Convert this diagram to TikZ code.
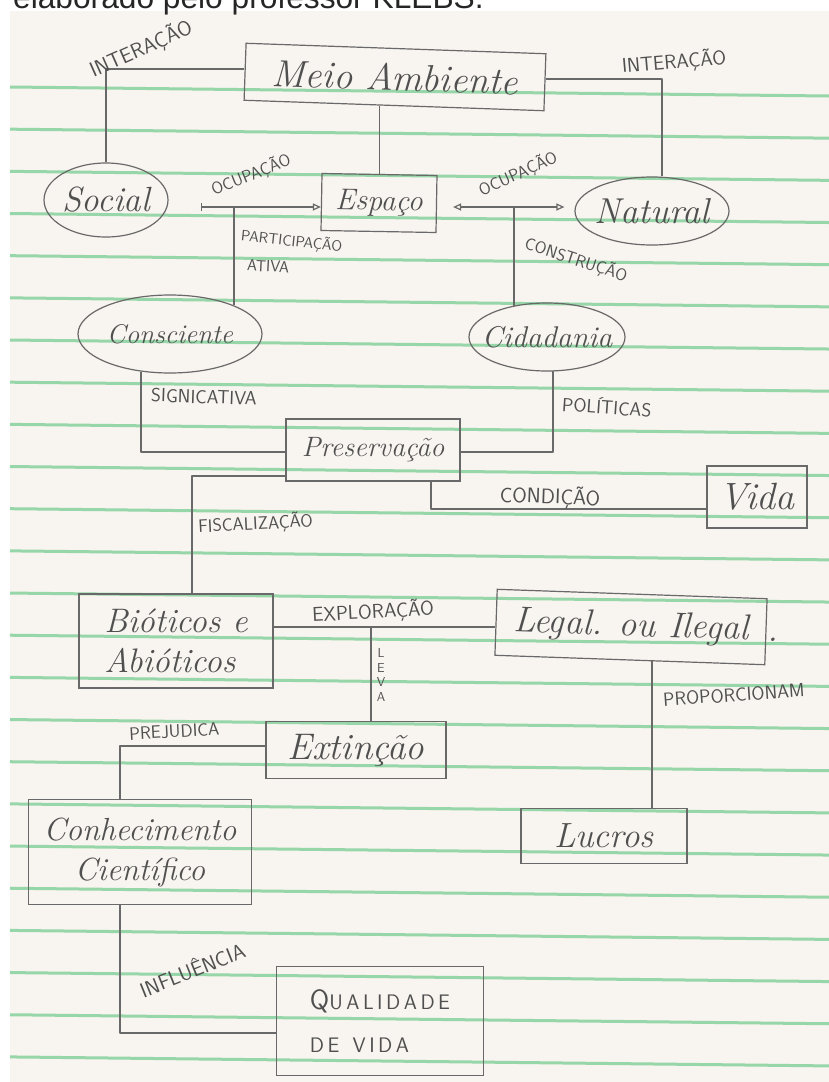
\documentclass[tikz,border=0pt]{standalone}
\usepackage{fontspec}
\newfontfamily\headfont{Liberation Sans}
\usetikzlibrary{shapes.geometric,arrows.meta,calc}

\definecolor{paper}{RGB}{248,244,239}
\definecolor{rule}{RGB}{150,214,168}
\definecolor{pencil}{RGB}{105,105,105}
\definecolor{graphite}{RGB}{80,80,80}

\tikzset{
  wire/.style={draw=pencil, line width=1.2pt, line join=round},
  box/.style={draw=pencil, line width=1.2pt, rectangle, inner sep=2pt, text=graphite},
  oval/.style={draw=pencil, line width=1.2pt, ellipse, inner sep=0pt},
  hand/.style={text=graphite, font=\fontsize{#1}{#1}\selectfont\itshape},
  tag/.style={text=graphite, inner sep=1pt, font=\fontsize{#1}{#1}\selectfont\sffamily},
  tipopen/.tip={Triangle[open, length=8pt, width=7pt]},
  tipbar/.tip={Bar[width=8pt]},
}

\begin{document}
\begin{tikzpicture}[x=1pt, y=-1pt]
  \useasboundingbox (0,0) rectangle (829,1082);
  \clip (0,0) rectangle (829,1082);

  % sheet of ruled paper
  \fill[white] (0,0) rectangle (829,1082);
  \fill[paper] (10,11) rectangle (829,1082);
  \foreach \k in {0,...,23}
    \draw[rule, line width=3pt] (10,{87+42.17*\k}) -- (829,{96+42.17*\k});

  % heading line above the sheet
  \node[anchor=base west, inner sep=0, text=black!85,
        font=\headfont\fontsize{31.7}{36}\selectfont] (head) at (13,8)
        {elaborado pelo professor KLEBS.};

  % concepts
  \node[box, rotate=-2, minimum width=300, minimum height=57, hand=38] (meio) at (395,77) {Meio Ambiente};
  \node[box, rotate=-1, minimum width=115, minimum height=57, hand=30] (espaco) at (379,203) {Espaço};
  \node[oval, minimum width=124, minimum height=74,
        label={[name=social-t, hand=35]center:Social}] (social) at (106,200) {};
  \node[oval, minimum width=154, minimum height=68,
        label={[name=natural-t, hand=36]center:Natural}] (natural) at (652,211) {};
  \node[oval, minimum width=184, minimum height=78,
        label={[name=consc-t, hand=27]center:Consciente}] (consc) at (170,334) {};
  \node[oval, minimum width=156, minimum height=68,
        label={[name=cidad-t, hand=30]center:Cidadania}] (cidad) at (547,337) {};
  \node[box, minimum width=174, minimum height=62, hand=28] (preserv) at (373,450) {Preservação};
  \node[box, minimum width=100, minimum height=62, hand=38] (vida) at (757,497) {Vida};
  \node[box, minimum width=194, minimum height=94, align=left, text=graphite,
        font=\fontsize{34}{40}\selectfont\itshape] (biot) at (176,641) {Bióticos e\\Abióticos};
  \node[box, rotate=-2, minimum width=270, minimum height=66, hand=36] (legal) at (631,627) {Legal. ou Ilegal};
  \node[hand=36, inner sep=0] (legal-dot) at (773,640) {.};
  \node[box, minimum width=180, minimum height=57, hand=37] (extin) at (356,750) {Extinção};
  \node[box, minimum width=223, minimum height=105, align=center, text=graphite,
        font=\fontsize{32}{40}\selectfont\itshape] (conhec) at (140,852) {Conhecimento\\Científico};
  \node[box, minimum width=166, minimum height=55, hand=35] (lucros) at (604,836) {Lucros};
  \node[box, minimum width=207, minimum height=109, align=left, text=graphite,
        font=\fontsize{21}{43}\selectfont\sffamily] (qual) at (380,1021)
        {{\fontsize{28}{28}\selectfont Q}U\,A\,L\,I\,D\,A\,D\,E\\D\,E \ V\,I\,D\,A};

  % bend points of the connectors
  \coordinate (k1) at (106,69);
  \coordinate (k2) at (662,79);
  \coordinate (row) at (0,207);
  \coordinate (pa) at (234,207);
  \coordinate (cb) at (514,207);
  \coordinate (sg) at (141,452);
  \coordinate (pl) at (553,452);
  \coordinate (cd) at (431,509);
  \coordinate (fs) at (192,476);
  \coordinate (ex) at (0,627);
  \coordinate (lv) at (371,627);
  \coordinate (pp) at (652,0);
  \coordinate (pj) at (120,746);
  \coordinate (inf) at (120,1033);

  % connectors
  \draw[wire] (meio.west |- k1) -- (k1) -- (social.north);
  \draw[wire] (meio.east |- k2) -- (k2) -- (k2 |- natural.north);
  \draw[wire] (espaco.north) -- (espaco.north |- meio.south);
  \draw[wire, tipbar-tipopen, shorten <=32pt]
    (social.east |- row) -- (espaco.west |- row);
  \draw[wire, tipopen-tipopen, shorten <=16pt, shorten >=10pt]
    (espaco.east |- row) -- (natural.west |- row);
  \draw[wire] (pa) -- (pa |- consc.24);
  \draw[wire] (cb) -- (cb |- cidad.137);
  \draw[wire] (sg |- consc.232) -- (sg) -- (sg -| preserv.west);
  \draw[wire] (pl |- cidad.280) -- (pl) -- (pl -| preserv.east);
  \draw[wire] (cd |- preserv.south) -- (cd) -- (cd -| vida.west);
  \draw[wire] (fs -| preserv.west) -- (fs) -- (fs |- biot.north);
  \draw[wire] (biot.east |- ex) -- (legal.west |- ex);
  \draw[wire] (lv) -- (lv |- extin.north);
  \draw[wire] (pp |- legal.south) -- (pp |- lucros.north);
  \draw[wire] (pj -| extin.west) -- (pj) -- (pj |- conhec.north);
  \draw[wire] (inf |- conhec.south) -- (inf) -- (inf -| qual.west);

  % link words
  \node[tag=21, rotate=24] (t-int1) at (141,49) {INTERAÇÃO};
  \node[tag=20, rotate=5] (t-int2) at (674,62) {INTERAÇÃO};
  \node[tag=17, rotate=22] (t-ocu1) at (251,175) {OCUPAÇÃO};
  \node[tag=17, rotate=24] (t-ocu2) at (518,174) {OCUPAÇÃO};
  \node[tag=15, rotate=-6, anchor=west] (t-part) at (240,236) {PARTICIPAÇÃO};
  \node[tag=16, rotate=-3, anchor=west] (t-ativa) at (246,265) {ATIVA};
  \node[tag=17, rotate=-18] (t-cons) at (576,260) {CONSTRUÇÃO};
  \node[tag=19, rotate=-2, anchor=west] (t-sig) at (150,395) {SIGNICATIVA};
  \node[tag=19, rotate=-4, anchor=west] (t-pol) at (561,403) {POLÍTICAS};
  \node[tag=21, rotate=-2] (t-cond) at (550,497) {CONDIÇÃO};
  \node[tag=18, rotate=3, anchor=west] (t-fisc) at (197,527) {FISCALIZAÇÃO};
  \node[tag=20, rotate=3] (t-expl) at (373,612) {EXPLORAÇÃO};
  \node[text=graphite, inner sep=1pt, align=center,
        font=\fontsize{13}{14.7}\selectfont\sffamily] (t-leva) at (381,675) {L\\E\\V\\A};
  \node[tag=19, rotate=4, anchor=west] (t-prop) at (662,700) {PROPORCIONAM};
  \node[tag=18, rotate=3, anchor=west] (t-prej) at (128,734) {PREJUDICA};
  \node[tag=21, rotate=22] (t-infl) at (192,969) {INFLUÊNCIA};
\end{tikzpicture}
\end{document}
